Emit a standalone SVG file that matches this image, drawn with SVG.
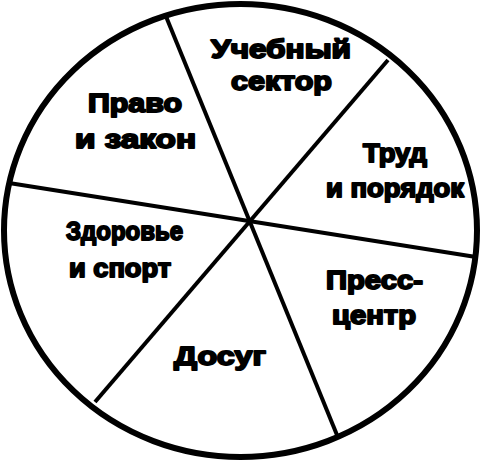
<svg xmlns="http://www.w3.org/2000/svg" width="482" height="463" viewBox="0 0 482 463">
<style>
.rim{fill:#fff;stroke:#000;stroke-width:6}
.div{stroke:#000;stroke-width:4;fill:none}
.lbl{font-family:"Liberation Sans",Arial,sans-serif;font-weight:bold;font-size:26px;fill:#000;stroke:#000;stroke-width:1.9;stroke-linejoin:round}
</style>
<rect width="482" height="463" fill="#fff"/>
<ellipse id="circle" class="rim" cx="240.5" cy="230.5" rx="236.5" ry="226.5"/>
<g id="connectors" class="div">
<line x1="165" y1="14" x2="337" y2="435"/>
<line x1="388" y1="60" x2="95" y2="402"/>
<line x1="9" y1="183" x2="476" y2="257"/>
</g>
<g id="uchebny" class="lbl">
<text x="211" y="58" textLength="140" lengthAdjust="spacingAndGlyphs">Учебный</text>
<text x="231" y="90" textLength="101" lengthAdjust="spacingAndGlyphs">сектор</text>
</g>
<g id="pravo" class="lbl">
<text x="88" y="112" textLength="94" lengthAdjust="spacingAndGlyphs">Право</text>
<text x="75" y="148" textLength="121" lengthAdjust="spacingAndGlyphs">и закон</text>
</g>
<g id="trud" class="lbl">
<text x="363" y="162" textLength="64" lengthAdjust="spacingAndGlyphs">Труд</text>
<text x="326" y="197" textLength="138" lengthAdjust="spacingAndGlyphs">и порядок</text>
</g>
<g id="zdorovie" class="lbl">
<text x="66" y="240" textLength="117" lengthAdjust="spacingAndGlyphs">Здоровье</text>
<text x="69" y="277" textLength="102" lengthAdjust="spacingAndGlyphs">и спорт</text>
</g>
<g id="press" class="lbl">
<text x="326" y="289" textLength="97" lengthAdjust="spacingAndGlyphs">Пресс-</text>
<text x="332" y="324" textLength="84" lengthAdjust="spacingAndGlyphs">центр</text>
</g>
<g id="dosug" class="lbl">
<text x="174" y="365" textLength="92" lengthAdjust="spacingAndGlyphs">Досуг</text>
</g>
</svg>
